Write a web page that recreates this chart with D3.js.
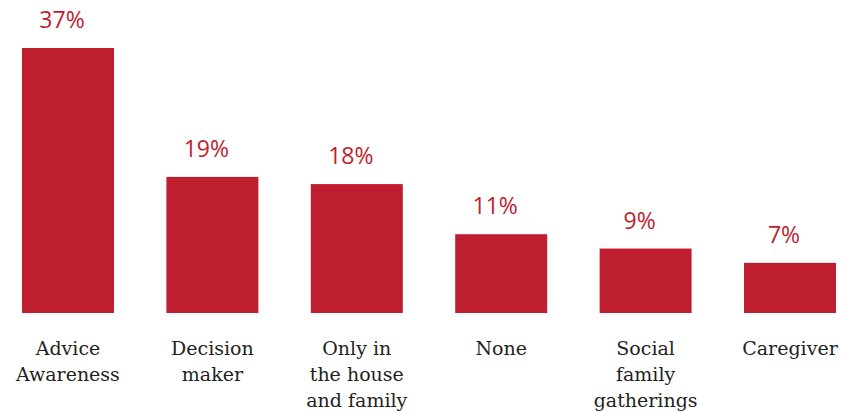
<!DOCTYPE html>
<html>
<head>
<meta charset="utf-8">
<script src="https://cdn.jsdelivr.net/npm/d3@7"></script>
<style>
  body { margin: 0; background: #fff; }
</style>
</head>
<body>
<div id="chart"></div>
<script>
// chart data
const categories = ["Advice Awareness", "Decision maker", "Only in the house and family", "None", "Social family gatherings", "Caregiver"];
const catLines = [["Advice", "Awareness"], ["Decision", "maker"], ["Only in", "the house", "and family"], ["None"], ["Social", "family", "gatherings"], ["Caregiver"]];
const values = [37, 19, 18, 11, 9, 7];

const width = 843, height = 412;
const red = "#BE1E2D";

const svg = d3.select("#chart")
  .append("svg")
  .attr("width", width)
  .attr("height", height);

// x band scale
const x = d3.scaleBand()
  .domain(categories)
  .range([22, 836])
  .paddingInner(0.363)
  .paddingOuter(0);

// y linear scale, zero at the baseline
const y = d3.scaleLinear()
  .domain([0, 37])
  .range([313, 48]);

const data = categories.map((c, i) => ({ cat: c, val: values[i], lines: catLines[i] }));

svg.selectAll("rect.bar")
  .data(data)
  .enter()
  .append("rect")
  .attr("class", "bar")
  .attr("x", d => x(d.cat))
  .attr("y", d => y(d.val))
  .attr("width", x.bandwidth())
  .attr("height", d => y(0) - y(d.val))
  .attr("fill", red);

// value labels (sit a little left of centre, like the original)
svg.selectAll("text.val")
  .data(data)
  .enter()
  .append("text")
  .attr("class", "val")
  .attr("x", d => x(d.cat) + x.bandwidth() / 2 - 6)
  .attr("y", d => y(d.val) - 20)
  .attr("text-anchor", "middle")
  .attr("font-family", "'Open Sans', sans-serif")
  .attr("font-size", "23px")
  .attr("font-weight", 400)
  .attr("fill", red)
  .text(d => d.val + "%");

// category labels
const lab = svg.selectAll("text.cat")
  .data(data)
  .enter()
  .append("text")
  .attr("class", "cat")
  .attr("text-anchor", "middle")
  .attr("font-family", "'DejaVu Serif', serif")
  .attr("font-size", "19px")
  .attr("fill", "#231F20");

lab.selectAll("tspan")
  .data(d => d.lines.map(l => ({ l: l, cx: x(d.cat) + x.bandwidth() / 2 })))
  .enter()
  .append("tspan")
  .attr("x", d => d.cx)
  .attr("y", (d, i) => 355 + i * 26)
  .text(d => d.l);
</script>
</body>
</html>
